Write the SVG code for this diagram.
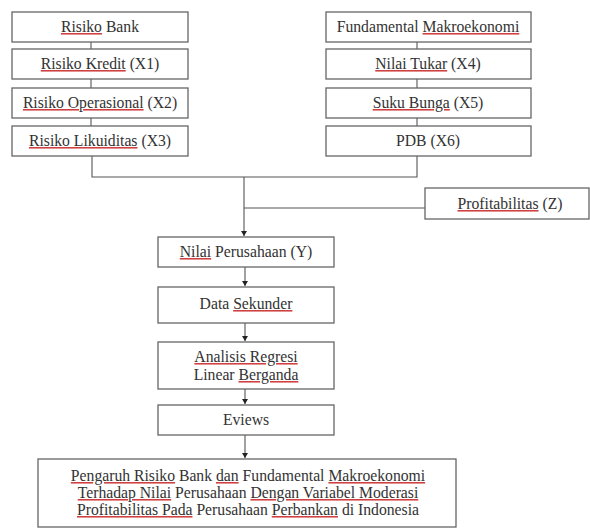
<svg xmlns="http://www.w3.org/2000/svg" width="590" height="531" viewBox="0 0 590 531">
<style>
.box{fill:#fff;stroke:#666;stroke-width:1.3}
.t{font-family:"Liberation Serif","Times New Roman",serif;font-size:15.7px;fill:#333;text-anchor:middle}
.u{text-decoration:underline;fill:#d04040}
.u tspan{fill:#333}
.ln{stroke:#555;stroke-width:1.1;fill:none}
</style>
<defs>
<marker id="ah" markerWidth="6" markerHeight="6" refX="5" refY="3" orient="auto" markerUnits="userSpaceOnUse">
<path d="M0,0 L5,3 L0,6 Z" fill="#222"/>
</marker>
</defs>
<rect width="590" height="531" fill="#fff"/>
<g id="connectors">
<line class="ln" x1="91" y1="42" x2="91" y2="49"/>
<line class="ln" x1="91" y1="79" x2="91" y2="88"/>
<line class="ln" x1="91" y1="118" x2="91" y2="126"/>
<line class="ln" x1="417" y1="42" x2="417" y2="49"/>
<line class="ln" x1="417" y1="79" x2="417" y2="88"/>
<line class="ln" x1="417" y1="118" x2="417" y2="126"/>
<polyline class="ln" points="92,156 92,177 417,177 417,156"/>
<line class="ln" x1="244" y1="177" x2="244" y2="236" marker-end="url(#ah)"/>
<line class="ln" x1="244" y1="208" x2="425" y2="208"/>
<line class="ln" x1="245" y1="267" x2="245" y2="286" marker-end="url(#ah)"/>
<line class="ln" x1="245" y1="323" x2="245" y2="341" marker-end="url(#ah)"/>
<line class="ln" x1="245" y1="389" x2="245" y2="404" marker-end="url(#ah)"/>
<line class="ln" x1="245" y1="435" x2="245" y2="458" marker-end="url(#ah)"/>
</g>
<g id="risiko-bank"><rect class="box" x="12" y="12" width="176" height="30"/><text class="t" x="100" y="32"><tspan class="u"><tspan>Risiko</tspan></tspan> Bank</text></g>
<g id="risiko-kredit"><rect class="box" x="12" y="49" width="176" height="30"/><text class="t" x="100" y="69"><tspan class="u"><tspan>Risiko Kredit</tspan></tspan> (X1)</text></g>
<g id="risiko-operasional"><rect class="box" x="12" y="88" width="176" height="30"/><text class="t" x="100" y="108"><tspan class="u"><tspan>Risiko Operasional</tspan></tspan> (X2)</text></g>
<g id="risiko-likuiditas"><rect class="box" x="12" y="126" width="176" height="30"/><text class="t" x="100" y="146"><tspan class="u"><tspan>Risiko Likuiditas</tspan></tspan> (X3)</text></g>
<g id="fundamental"><rect class="box" x="326" y="12" width="205" height="30"/><text class="t" x="428" y="32">Fundamental <tspan class="u"><tspan>Makroekonomi</tspan></tspan></text></g>
<g id="nilai-tukar"><rect class="box" x="326" y="49" width="205" height="30"/><text class="t" x="428" y="69"><tspan class="u"><tspan>Nilai Tukar</tspan></tspan> (X4)</text></g>
<g id="suku-bunga"><rect class="box" x="326" y="88" width="205" height="30"/><text class="t" x="428" y="108"><tspan class="u"><tspan>Suku Bunga</tspan></tspan> (X5)</text></g>
<g id="pdb"><rect class="box" x="326" y="126" width="205" height="30"/><text class="t" x="428" y="146">PDB (X6)</text></g>
<g id="profitabilitas"><rect class="box" x="425" y="188" width="164" height="31"/><text class="t" x="510" y="209"><tspan class="u"><tspan>Profitabilitas</tspan></tspan> (Z)</text></g>
<g id="nilai-perusahaan"><rect class="box" x="158" y="237" width="176" height="30"/><text class="t" x="246" y="257"><tspan class="u"><tspan>Nilai</tspan></tspan> Perusahaan (Y)</text></g>
<g id="data-sekunder"><rect class="box" x="158" y="287" width="176" height="36"/><text class="t" x="246" y="309">Data <tspan class="u"><tspan>Sekunder</tspan></tspan></text></g>
<g id="analisis"><rect class="box" x="158" y="342" width="176" height="47"/><text class="t" x="246" y="362"><tspan class="u"><tspan>Analisis Regresi</tspan></tspan></text><text class="t" x="246" y="380">Linear <tspan class="u"><tspan>Berganda</tspan></tspan></text></g>
<g id="eviews"><rect class="box" x="158" y="405" width="176" height="30"/><text class="t" x="246" y="425">Eviews</text></g>
<g id="kesimpulan"><rect class="box" x="38" y="459" width="418" height="68"/>
<text class="t" x="248" y="481"><tspan class="u"><tspan>Pengaruh Risiko</tspan></tspan> Bank <tspan class="u"><tspan>dan</tspan></tspan> Fundamental <tspan class="u"><tspan>Makroekonomi</tspan></tspan></text>
<text class="t" x="248" y="498"><tspan class="u"><tspan>Terhadap Nilai</tspan></tspan> Perusahaan <tspan class="u"><tspan>Dengan Variabel Moderasi</tspan></tspan></text>
<text class="t" x="248" y="515"><tspan class="u"><tspan>Profitabilitas Pada</tspan></tspan> Perusahaan <tspan class="u"><tspan>Perbankan</tspan></tspan> di Indonesia</text>
</g>
</svg>
